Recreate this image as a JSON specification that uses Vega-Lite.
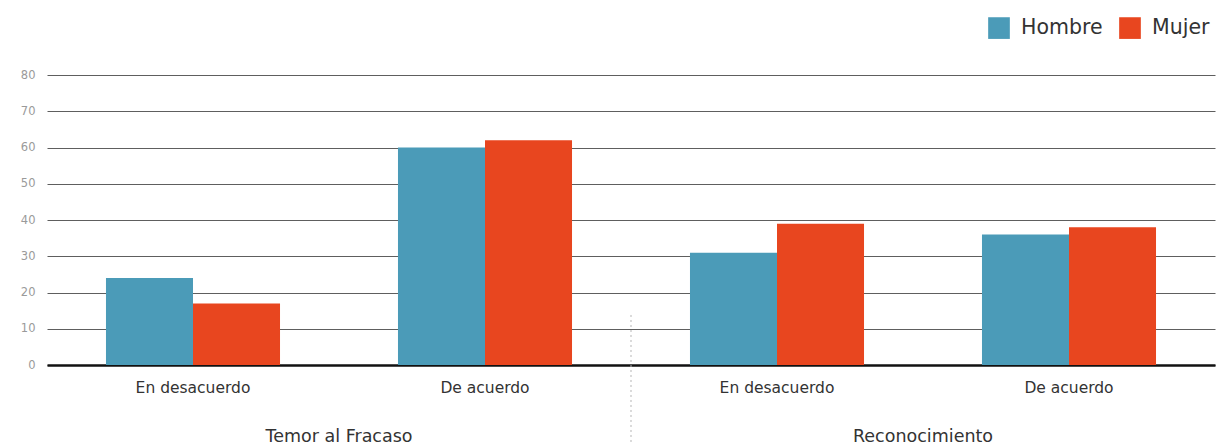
{
  "$schema": "https://vega.github.io/schema/vega-lite/v6.json",
  "width": 1168,
  "height": 290,
  "autosize": {"type": "none"},
  "padding": {"left": 47, "top": 75, "right": 2, "bottom": 80},
  "background": "white",
  "config": {
    "view": {"stroke": null},
    "font": "DejaVu Sans",
    "axis": {"labelFont": "DejaVu Sans", "titleFont": "DejaVu Sans"},
    "legend": {"labelFont": "DejaVu Sans"}
  },
  "datasets": {
    "bars": [
      {"grupo": "Temor al Fracaso", "cat": "T-En", "sexo": "Hombre", "valor": 24},
      {"grupo": "Temor al Fracaso", "cat": "T-En", "sexo": "Mujer", "valor": 17},
      {"grupo": "Temor al Fracaso", "cat": "T-De", "sexo": "Hombre", "valor": 60},
      {"grupo": "Temor al Fracaso", "cat": "T-De", "sexo": "Mujer", "valor": 62},
      {"grupo": "Reconocimiento", "cat": "R-En", "sexo": "Hombre", "valor": 31},
      {"grupo": "Reconocimiento", "cat": "R-En", "sexo": "Mujer", "valor": 39},
      {"grupo": "Reconocimiento", "cat": "R-De", "sexo": "Hombre", "valor": 36},
      {"grupo": "Reconocimiento", "cat": "R-De", "sexo": "Mujer", "valor": 38}
    ],
    "groups": [
      {"grupo": "Temor al Fracaso", "cat": "T-En", "valor": -19.8},
      {"grupo": "Reconocimiento", "cat": "R-En", "valor": -19.8}
    ],
    "divider": [
      {"cat": "T-De", "valor": 13.8, "bottom": -22}
    ]
  },
  "encoding": {
    "x": {
      "field": "cat",
      "type": "nominal",
      "sort": ["T-En", "T-De", "R-En", "R-De"],
      "scale": {"domain": ["T-En", "T-De", "R-En", "R-De"], "paddingInner": 0.404, "paddingOuter": 0.202},
      "axis": {
        "title": null,
        "labelAngle": 0,
        "labelExpr": "indexof(datum.value, '-En') > 0 ? 'En desacuerdo' : 'De acuerdo'",
        "labelFontSize": 15.5,
        "labelColor": "#333333",
        "labelPadding": 15,
        "ticks": false,
        "domainColor": "#111111",
        "domainWidth": 2.5,
        "grid": false
      }
    },
    "y": {
      "field": "valor",
      "type": "quantitative",
      "scale": {"domain": [0, 80], "nice": false},
      "axis": {
        "title": null,
        "values": [0, 10, 20, 30, 40, 50, 60, 70, 80],
        "labelOverlap": false,
        "domain": false,
        "ticks": false,
        "labelColor": "#9a9a9a",
        "labelFontSize": 11.5,
        "labelPadding": 12,
        "gridColor": "#5e5e5e",
        "gridWidth": 1,
        "gridOpacity": 1
      }
    }
  },
  "layer": [
    {
      "data": {"name": "bars"},
      "mark": {"type": "bar"},
      "encoding": {
        "xOffset": {
          "field": "sexo",
          "type": "nominal",
          "sort": ["Hombre", "Mujer"],
          "scale": {"paddingInner": 0, "paddingOuter": 0}
        },
        "color": {
          "field": "sexo",
          "type": "nominal",
          "sort": ["Hombre", "Mujer"],
          "scale": {"domain": ["Hombre", "Mujer"], "range": ["#4b9bb8", "#e8461f"]},
          "legend": {
            "title": null,
            "orient": "none",
            "direction": "horizontal",
            "legendX": 941,
            "legendY": -58,
            "symbolType": "square",
            "symbolSize": 470,
            "symbolStrokeWidth": 0,
            "symbolOpacity": 1,
            "labelFontSize": 20.5,
            "labelColor": "#333333",
            "labelOffset": 11,
            "columnPadding": 16
          }
        }
      }
    },
    {
      "data": {"name": "divider"},
      "mark": {"type": "rule", "color": "#b5b5b5", "strokeDash": [2, 3], "strokeWidth": 1},
      "encoding": {
        "x": {"field": "cat", "type": "nominal", "bandPosition": 1.339},
        "y2": {"field": "bottom"}
      }
    },
    {
      "data": {"name": "groups"},
      "mark": {"type": "text", "fontSize": 17.5, "color": "#333333", "baseline": "middle", "align": "center"},
      "encoding": {
        "x": {"field": "cat", "type": "nominal", "bandPosition": 1.339},
        "text": {"field": "grupo"}
      }
    }
  ]
}
